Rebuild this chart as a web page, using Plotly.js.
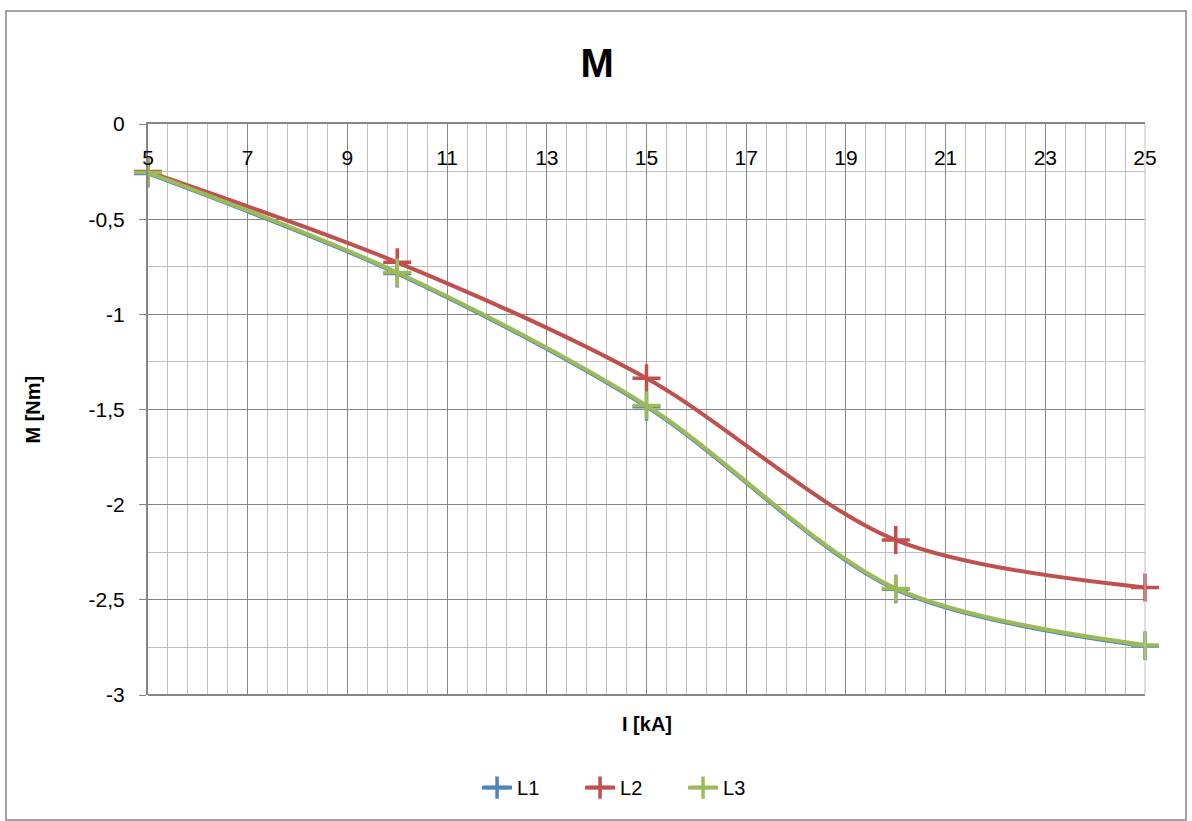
<!DOCTYPE html>
<html>
<head>
<meta charset="utf-8">
<script src="https://cdn.plot.ly/plotly-3.0.1.min.js"></script>
<style>html,body{margin:0;padding:0;background:#fff;}#chart{width:1192px;height:821px;}</style>
</head>
<body>
<div id="chart"></div>
<script>
const currentKA = [5, 10, 15, 20, 25];
const seriesNames = ['L1', 'L2', 'L3'];
const valuesL1 = [-0.26, -0.785, -1.485, -2.445, -2.742];
const valuesL2 = [-0.25, -0.727, -1.336, -2.186, -2.435];
const valuesL3 = [-0.255, -0.78, -1.479, -2.44, -2.737];
const seriesColors = ['#4F81BD', '#C0504D', '#9BBB59'];
const yTickValues = [0, -0.5, -1, -1.5, -2, -2.5, -3];
const yTickLabels = ['0', '-0,5', '-1', '-1,5', '-2', '-2,5', '-3'];

const allValues = [valuesL1, valuesL2, valuesL3];
const font = 'Liberation Sans, Arial, sans-serif';

const traces = allValues.map((vals, i) => ({
  x: currentKA,
  y: vals,
  name: seriesNames[i],
  type: 'scatter',
  mode: 'lines+markers',
  cliponaxis: false,
  line: {color: seriesColors[i], width: 4, shape: 'spline', smoothing: 0.9},
  marker: {symbol: 'cross-thin', size: 20, line: {color: seriesColors[i], width: 3.5}, color: seriesColors[i]}
}));

const layout = {
  width: 1192, height: 821,
  separators: ',.',
  paper_bgcolor: '#fff', plot_bgcolor: '#fff',
  margin: {l: 148, r: 47, t: 124, b: 126, autoexpand: false},
  font: {family: font, size: 20, color: '#000'},
  title: {text: '<b>M</b>', font: {family: font, size: 40, color: '#000'}, x: 0.501, xref: 'container', xanchor: 'center', y: 0.923, yref: 'container', yanchor: 'middle'},
  showlegend: true,
  legend: {orientation: 'h', x: 0.485, xanchor: 'center', y: -0.128, yanchor: 'top', font: {family: font, size: 20}, traceorder: 'normal', entrywidth: 58, entrywidthmode: 'pixels'},
  xaxis: {
    range: [5, 25], side: 'top', tick0: 5, dtick: 2,
    ticklabelposition: 'inside', ticklabeloverflow: 'allow', ticklabelstandoff: 28,
    showline: true, linecolor: '#868686', linewidth: 2,
    showgrid: true, gridcolor: '#868686', gridwidth: 1,
    ticks: '', zeroline: false,
    minor: {dtick: 0.4, tick0: 5, showgrid: true, gridcolor: '#bfbfbf', gridwidth: 1},
    tickfont: {family: font, size: 21, color: '#000'},
    fixedrange: true
  },
  yaxis: {
    range: [-3, 0], tickmode: 'array', tickvals: yTickValues, ticktext: yTickLabels,
    showline: true, linecolor: '#868686', linewidth: 2,
    showgrid: true, gridcolor: '#868686', gridwidth: 1,
    ticks: 'outside', ticklen: 7, tickcolor: '#868686', tickwidth: 1,
    ticklabelstandoff: 10,
    zeroline: false,
    minor: {dtick: 0.25, tick0: 0, showgrid: true, gridcolor: '#bfbfbf', gridwidth: 1},
    tickfont: {family: font, size: 21, color: '#000'},
    fixedrange: true
  },
  annotations: [
    {text: '<b>I [kA]</b>', xref: 'paper', yref: 'paper', x: 0.5, y: -0.028, xanchor: 'center', yanchor: 'top', showarrow: false, font: {family: font, size: 20, color: '#000'}},
    {text: '<b>M [Nm]</b>', xref: 'paper', yref: 'paper', x: -0.1163, y: 0.5, xanchor: 'center', yanchor: 'middle', textangle: -90, showarrow: false, font: {family: font, size: 20, color: '#000'}}
  ],
  shapes: [
    {type: 'line', xref: 'paper', yref: 'paper', x0: 0, x1: 1, y0: 0, y1: 0, line: {color: '#868686', width: 2}},
    {type: 'line', xref: 'paper', yref: 'paper', x0: 1, x1: 1, y0: 0, y1: 1, line: {color: '#bfbfbf', width: 1}},
    {type: 'rect', xref: 'paper', yref: 'paper', x0: -0.1424, x1: 1.0411, y0: -0.2189, y1: 1.1979, line: {color: '#868686', width: 1.5}, fillcolor: 'rgba(0,0,0,0)', layer: 'below'}
  ]
};

Plotly.newPlot('chart', traces, layout, {displayModeBar: false, staticPlot: true});
</script>
</body>
</html>
